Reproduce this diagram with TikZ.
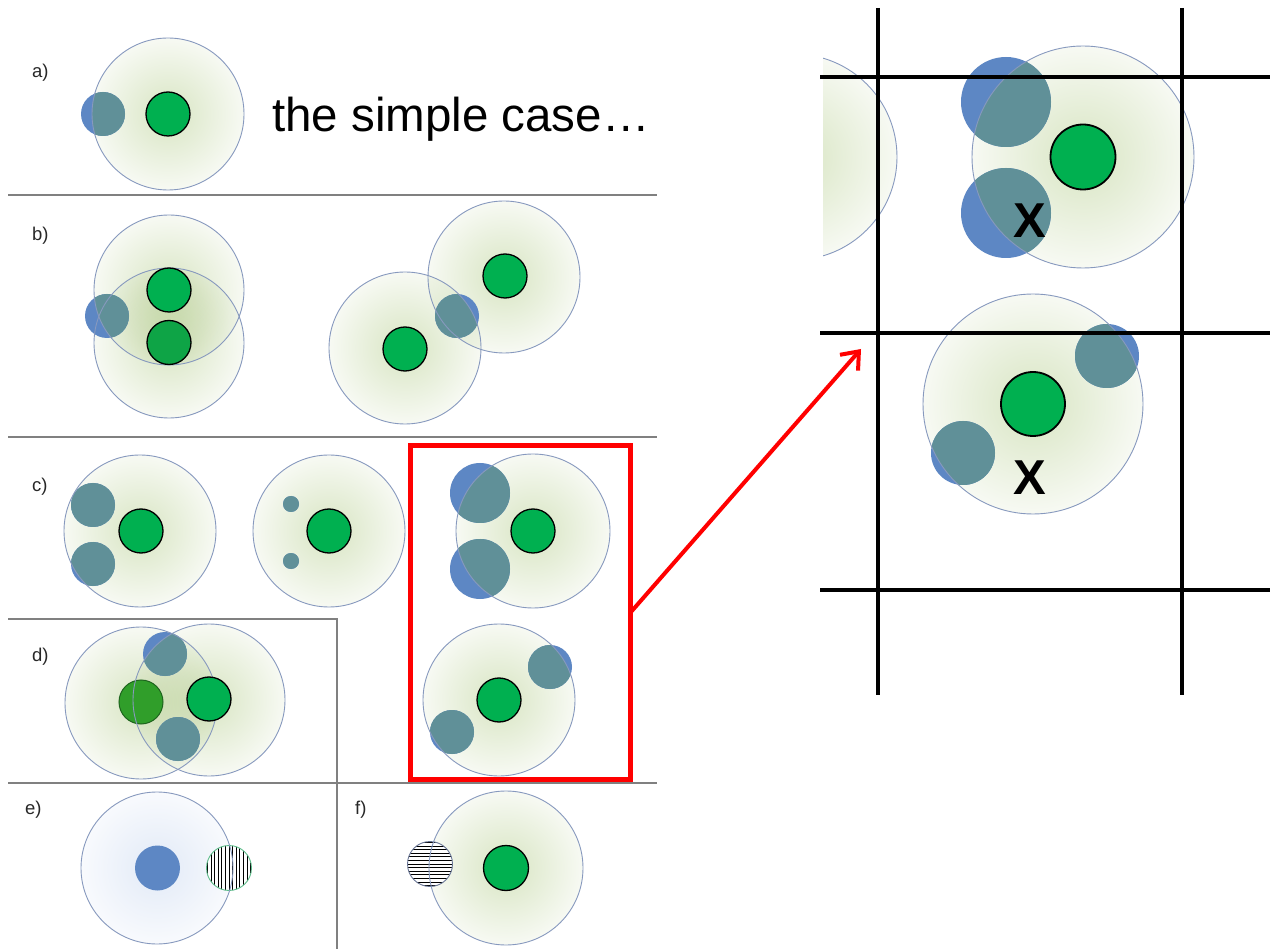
\documentclass[tikz,border=0pt]{standalone}
\usepackage{fontspec}
\setmainfont{Liberation Sans}
\usetikzlibrary{arrows.meta}

% palette
\definecolor{glowin}{RGB}{222,233,204}
\definecolor{glowout}{RGB}{251,252,249}
\definecolor{palein}{RGB}{230,237,248}
\definecolor{paleout}{RGB}{251,252,254}
\definecolor{rimblue}{RGB}{135,153,190}
\definecolor{nucgreen}{RGB}{0,176,80}
\definecolor{nucshade}{RGB}{14,164,70}
\definecolor{nucdark}{RGB}{48,158,42}
\definecolor{nucdarkrim}{RGB}{30,100,30}
\definecolor{blobblue}{RGB}{93,135,196}
\definecolor{blobteal}{RGB}{96,144,152}
\definecolor{hatchgreen}{RGB}{95,190,140}
\definecolor{hatchslate}{RGB}{105,118,150}
\definecolor{sepgray}{RGB}{128,128,128}
\definecolor{labelgray}{RGB}{40,40,40}

% soft halo fills for the cells
\pgfdeclareradialshading{cellglow}{\pgfpoint{0bp}{0bp}}{color(0bp)=(glowin); color(5bp)=(glowin); color(28bp)=(glowout); color(50bp)=(glowout)}
\pgfdeclareradialshading{paleglow}{\pgfpoint{0bp}{0bp}}{color(0bp)=(palein); color(5bp)=(palein); color(28bp)=(paleout); color(50bp)=(paleout)}

\tikzset{
  rim/.style={draw=rimblue, line width=0.9pt},
  nuc/.style={fill=nucgreen, draw=black, line width=1.3pt},
  sep/.style={draw=sepgray, line width=1.5pt},
  grid line/.style={draw=black, line width=4pt},
  hatchline/.style={draw=black, line width=0.7pt},
  lab/.style={anchor=base west, inner sep=0pt, text=labelgray, font=\fontsize{18.5}{18.5}\selectfont},
  bigx/.style={inner sep=0pt, font=\bfseries\fontsize{49}{49}\selectfont},
}

% cell halo, cell outline, nucleus
\newcommand\cellbody[3]{\shade[shading=cellglow, blend mode=multiply] (#1,#2) circle[radius=#3];}
\newcommand\cellrim[3]{\draw[rim] (#1,#2) circle[radius=#3];}
\newcommand\nucdot[3]{\filldraw[nuc] (#1,#2) circle[radius=#3];}
% blob at #1,#2 (radius #3), tinted where it lies inside the cell #4,#5 (radius #6)
\newcommand\blobat[6]{%
  \fill[blobblue] (#1,#2) circle[radius=#3];
  \begin{scope}
    \clip (#4,#5) circle[radius=#6];
    \fill[blobteal] (#1,#2) circle[radius=#3];
  \end{scope}}

\begin{document}
\begin{tikzpicture}[x=1pt, y=-1pt]
\useasboundingbox (0,0) rectangle (1270,949);
\fill[white] (0,0) rectangle (1270,949);

% ---- panel separators
\draw[sep] (8,195) -- (657,195);
\draw[sep] (8,437) -- (657,437);
\draw[sep] (8,619) -- (337,619) -- (337,949);
\draw[sep] (8,783) -- (657,783);

% ---- a) the simple case
\cellbody{168}{114}{76}
\blobat{103}{114}{22}{168}{114}{76}
\cellrim{168}{114}{76}
\nucdot{168}{114}{22}
\node[lab] (la) at (32,78) {a)};
\node[anchor=base west, inner sep=0pt, font=\fontsize{47.5}{50}\selectfont] (tagline) at (272,132) {the simple case…};

% ---- b) two overlapping cells
\cellbody{169}{343}{75}
\cellbody{169}{290}{75}
\blobat{107}{316}{22}{169}{290}{75}
\cellrim{169}{343}{75}
\cellrim{169}{290}{75}
\filldraw[nuc, fill=nucshade] (169,342.5) circle[radius=22];
\nucdot{169}{290}{22}
\cellbody{405}{348}{76}
\cellbody{504}{277}{76}
\blobat{457}{316}{22}{405}{348}{76}
\cellrim{405}{348}{76}
\cellrim{504}{277}{76}
\nucdot{405}{349}{22}
\nucdot{505}{276}{22}
\node[lab] (lb) at (32,241) {b)};

% ---- c)
\cellbody{140}{531}{76}
\blobat{93}{505}{22}{140}{531}{76}
\blobat{93}{564}{22}{140}{531}{76}
\cellrim{140}{531}{76}
\nucdot{141}{531}{22}

\cellbody{329}{531}{76}
\blobat{291}{504}{8}{329}{531}{76}
\blobat{291}{561}{8}{329}{531}{76}
\cellrim{329}{531}{76}
\nucdot{329}{531}{22}

\cellbody{533}{531}{77}
\blobat{480}{493}{30}{533}{531}{77}
\blobat{480}{569}{30}{533}{531}{77}
\cellrim{533}{531}{77}
\nucdot{533}{531}{22}

\cellbody{499}{700}{76}
\blobat{550}{667}{22}{499}{700}{76}
\blobat{452}{732}{22}{499}{700}{76}
\cellrim{499}{700}{76}
\nucdot{499}{700}{22}
\node[lab] (lc) at (32,492) {c)};

% ---- d)
\cellbody{141}{703}{76}
\cellbody{209}{700}{76}
\filldraw[fill=nucdark, draw=nucdarkrim, line width=1pt] (141,702) circle[radius=22];
\blobat{165}{654}{22}{209}{700}{76}
\blobat{178}{739}{22}{209}{700}{76}
\cellrim{141}{703}{76}
\cellrim{209}{700}{76}
\nucdot{209}{699}{22}
\node[lab] (ld) at (32,661) {d)};

% ---- e)
\shade[shading=paleglow] (157,868) circle[radius=76];
\fill[blobblue] (157.5,868) circle[radius=22.5];
\fill[white] (229,868) circle[radius=22.5];
\begin{scope}
  \clip (229,868) circle[radius=22.5];
  \foreach \k in {-6,...,6} \draw[hatchline] ({229+\k*3.6},840) -- ({229+\k*3.6},896);
\end{scope}
\draw[hatchgreen, line width=0.9pt] (229,868) circle[radius=22.5];
\cellrim{157}{868}{76}
\node[lab] (le) at (25,814) {e)};

% ---- f)
\cellbody{506}{868}{77}
\fill[white] (430,864) circle[radius=22.5];
\begin{scope}
  \clip (430,864) circle[radius=22.5];
  \foreach \k in {-6,...,6} \draw[hatchline] (402,{864+\k*3.6}) -- (458,{864+\k*3.6});
\end{scope}
\draw[hatchslate, line width=0.9pt] (430,864) circle[radius=22.5];
\cellrim{506}{868}{77}
\nucdot{506}{868}{22.5}
\node[lab] (lf) at (355,814) {f)};

% ---- enlarged view on the grid
\begin{scope}
  \clip (823,0) rectangle (1270,949);
  \cellbody{794}{157}{103}
  \cellrim{794}{157}{103}
\end{scope}

\cellbody{1083}{157}{111}
\blobat{1006}{102}{45}{1083}{157}{111}
\blobat{1006}{213}{45}{1083}{157}{111}
\cellrim{1083}{157}{111}
\filldraw[nuc, line width=1.8pt] (1083,157) circle[radius=32.5];

\cellbody{1033}{404}{110}
\blobat{1107}{356}{32}{1033}{404}{110}
\blobat{963}{453}{32}{1033}{404}{110}
\cellrim{1033}{404}{110}
\filldraw[nuc, line width=1.8pt] (1033,404) circle[radius=32];

\node[bigx] (xupper) at (1030,221) {X};
\node[bigx] (xlower) at (1030,478) {X};

\draw[grid line] (878,8) -- (878,695);
\draw[grid line] (1182,8) -- (1182,695);
\draw[grid line] (820,77) -- (1270,77);
\draw[grid line] (820,333) -- (1270,333);
\draw[grid line] (820,590) -- (1270,590);

% ---- highlight box and pointer
\node[draw=red, line width=5pt, minimum width=220pt, minimum height=333pt,
      inner sep=0pt, outer sep=0pt] (zoombox) at (520.5,612.5) {};
\coordinate (pointer) at (861,349);
\draw[red, line width=4pt, -{Straight Barb[length=15pt, width=24pt]}]
  (zoombox.east) -- (pointer);
\end{tikzpicture}
\end{document}
